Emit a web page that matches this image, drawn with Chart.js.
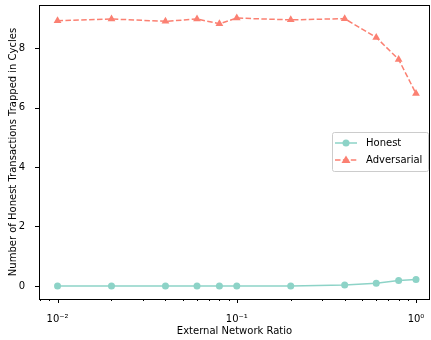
<!DOCTYPE html>
<html>
<head>
<meta charset="utf-8">
<script src="https://cdn.jsdelivr.net/npm/chart.js@4/dist/chart.umd.min.js"></script>
<style>
  html, body { margin: 0; padding: 0; background: #fff; }
  #wrap { width: 431px; height: 340px; }
</style>
</head>
<body>
<div id="wrap"><canvas id="myChart" width="431" height="340"></canvas></div>
<script>
// ---------------- data
const ratios = [0.01, 0.02, 0.04, 0.06, 0.08, 0.1, 0.2, 0.4, 0.6, 0.8, 1.0];
const honest = [0, 0, 0, 0, 0, 0, 0, 0.03, 0.09, 0.18, 0.22];
const adversarial = [8.92, 8.98, 8.9, 8.98, 8.82, 9.01, 8.95, 8.99, 8.36, 7.62, 6.47];
const seriesNames = ["Honest", "Adversarial"];
const yTicks = [0, 2, 4, 6, 8];
const xMajor = [0.01, 0.1, 1];
const xLabels = ["10\u207B\u00B2", "10\u207B\u00B9", "10\u2070"];

const teal = "#8dd3c7";
const salmon = "#fb8072";
const FONT = "'DejaVu Sans', sans-serif";

// minor ticks 2..9 per decade
const xTicks = [];
[0.001, 0.01, 0.1, 1].forEach((d) => {
  for (let k = 1; k <= 9; k++) xTicks.push(+(d * k).toPrecision(3));
});

// --------------------------------------------------
// frame + tick marks, matplotlib style
const frame = {
  id: "frame",
  afterDraw(chart) {
    const { ctx, chartArea: a } = chart;
    const xs = chart.scales.x, ys = chart.scales.y;
    ctx.save();
    ctx.strokeStyle = "#000";
    ctx.lineWidth = 1;
    ctx.strokeRect(a.left + 0.5, a.top + 0.5, a.right - a.left - 1, a.bottom - a.top);
    ctx.beginPath();
    xs.ticks.forEach((t) => {
      const px = Math.round(xs.getPixelForValue(t.value)) + 0.5;
      if (px < a.left || px > a.right) return;
      const major = xMajor.some((m) => Math.abs(m - t.value) < 1e-9);
      ctx.moveTo(px, a.bottom);
      ctx.lineTo(px, a.bottom + (major ? 4 : 2));
    });
    ys.ticks.forEach((t) => {
      const py = Math.round(ys.getPixelForValue(t.value)) + 0.5;
      ctx.moveTo(a.left, py);
      ctx.lineTo(a.left - 4, py);
    });
    ctx.stroke();

    // legend
    const bx = 332, by = 132, bw = 96, bh = 39;
    ctx.fillStyle = "rgba(255,255,255,0.8)";
    ctx.strokeStyle = "#cccccc";
    ctx.beginPath();
    ctx.roundRect(bx + 0.5, by + 0.5, bw, bh, 2);
    ctx.fill();
    ctx.stroke();
    const rows = [
      { name: seriesNames[0], color: teal, dash: [], shape: "circle", y: 143 },
      { name: seriesNames[1], color: salmon, dash: [5.5, 2.4], shape: "triangle", y: 160 },
    ];
    rows.forEach((r) => {
      ctx.strokeStyle = r.color;
      ctx.lineWidth = 1.5;
      ctx.setLineDash(r.dash);
      ctx.beginPath();
      ctx.moveTo(335, r.y);
      ctx.lineTo(357, r.y);
      ctx.stroke();
      ctx.setLineDash([]);
      ctx.fillStyle = r.color;
      ctx.beginPath();
      if (r.shape === "circle") {
        ctx.arc(346, r.y, 3.5, 0, Math.PI * 2);
      } else {
        ctx.moveTo(346, r.y - 4.5);
        ctx.lineTo(350.5, r.y + 3);
        ctx.lineTo(341.5, r.y + 3);
        ctx.closePath();
      }
      ctx.fill();
      ctx.fillStyle = "#000";
      ctx.font = "10px " + FONT;
      ctx.textBaseline = "middle";
      ctx.fillText(r.name, 366, r.y);
    });
    ctx.restore();
  },
};

// --------------------------------------------------
const ctx = document.getElementById("myChart").getContext("2d");
const myChart = new Chart(ctx, {
  type: "line",
  data: {
    datasets: [
      {
        label: seriesNames[0],
        data: ratios.map((r, i) => ({ x: r, y: honest[i] })),
        borderColor: teal,
        backgroundColor: teal,
        borderWidth: 1.5,
        pointStyle: "circle",
        pointRadius: 3.5,
        pointBorderWidth: 0,
        pointHoverRadius: 3.5,
      },
      {
        label: seriesNames[1],
        data: ratios.map((r, i) => ({ x: r, y: adversarial[i] })),
        borderColor: salmon,
        backgroundColor: salmon,
        borderWidth: 1.5,
        borderDash: [5.5, 2.4],
        pointStyle: "triangle",
        pointRadius: 4.5,
        pointBorderWidth: 0,
        pointHoverRadius: 4.5,
      },
    ],
  },
  options: {
    responsive: false,
    animation: false,
    layout: { autoPadding: false, padding: { left: 0, right: 1, top: 5, bottom: 0 } },
    plugins: {
      legend: { display: false },
      tooltip: { enabled: false },
    },
    scales: {
      x: {
        type: "logarithmic",
        min: 0.00788,
        max: 1.197,
        grid: { display: false },
        border: { display: false },
        afterBuildTicks: (s) => {
          s.ticks = xTicks.filter((v) => v >= s.min && v <= s.max).map((v) => ({ value: v }));
        },
        afterFit: (s) => {
          s.height = 41;
          s.paddingLeft = 0;
          s.paddingRight = 0;
        },
        ticks: {
          autoSkip: false,
          maxRotation: 0,
          padding: 6,
          color: "#000",
          font: { family: FONT, size: 10 },
          callback: (v) => {
            const i = xMajor.findIndex((m) => Math.abs(m - v) < 1e-9);
            return i >= 0 ? xLabels[i] : "";
          },
        },
        title: {
          display: true,
          text: "External Network Ratio",
          color: "#000",
          font: { family: FONT, size: 10 },
          padding: { top: 0, bottom: 3 },
        },
      },
      y: {
        min: -0.44,
        max: 9.45,
        grid: { display: false },
        border: { display: false },
        afterBuildTicks: (s) => {
          s.ticks = yTicks.map((v) => ({ value: v }));
        },
        afterFit: (s) => {
          s.width = 39;
          s.paddingTop = 0;
          s.paddingBottom = 0;
        },
        ticks: {
          padding: 6,
          color: "#000",
          font: { family: FONT, size: 10 },
        },
        title: {
          display: true,
          text: "Number of Honest Transactions Trapped in Cycles",
          color: "#000",
          font: { family: FONT, size: 10 },
          padding: { top: 7, bottom: 0 },
        },
      },
    },
  },
  plugins: [frame],
});
</script>
</body>
</html>
